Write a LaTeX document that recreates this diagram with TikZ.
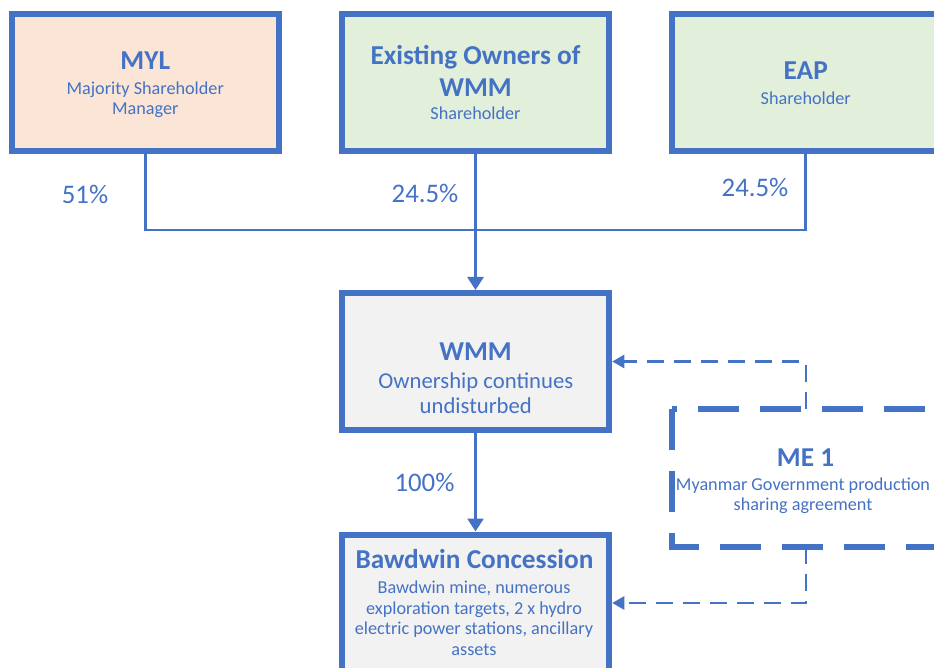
\documentclass[tikz,border=0pt]{standalone}
\usepackage{fontspec}
\setmainfont{Carlito}
\usetikzlibrary{arrows.meta}
\definecolor{lineblue}{HTML}{4472C4}
\definecolor{txtblue}{HTML}{4472C4}
\definecolor{fillorange}{HTML}{FBE5D6}
\definecolor{fillgreen}{HTML}{E2EFDA}
\definecolor{fillgray}{HTML}{F2F2F2}
\newcommand{\mlines}[1]{\begin{tabular}[t]{@{}c@{}}#1\end{tabular}}
\begin{document}
\begin{tikzpicture}[x=1pt,y=-1pt,
  box/.style={draw=lineblue, line width=6pt, minimum width=267.5pt, minimum height=137pt, inner sep=0pt},
  ttl/.style={anchor=base, text=txtblue, font=\fontsize{27.3}{32}\selectfont\bfseries, inner sep=0pt},
  sub/.style={anchor=base, text=txtblue, font=\fontsize{18.2}{20.7}\selectfont, inner sep=0pt},
  pct/.style={anchor=base, text=txtblue, font=\fontsize{26.8}{30}\selectfont, inner sep=0pt},
  conn/.style={draw=lineblue, line width=2.75pt},
  arr/.style={-{Triangle[length=13pt,width=16pt]}},
  dconn/.style={draw=lineblue, line width=2.5pt, dash pattern=on 17pt off 10pt, -{Triangle[length=12pt,width=13pt]}}]
\useasboundingbox (0,0) rectangle (934,668);
\clip (0,0) rectangle (934,668);
% boxes
\node[box, fill=fillorange] (myl) at (145.25,82.5) {};
\node[box, fill=fillgreen] (own) at (475.5,82.5) {};
\node[box, fill=fillgreen] (eap) at (805.75,82.5) {};
\node[box, fill=fillgray] (wmm) at (475.5,361.5) {};
\node[box, fill=fillgray] (baw) at (475.5,603) {};
\node[box, draw=none, fill=white, outer sep=0pt, minimum height=138pt] (me) at (805.75,478) {};
\draw[lineblue, line width=6pt, dash pattern=on 41pt off 21pt] (me.north west) -- (me.south west) -- (me.south east) -- (me.north east) -- cycle;
% texts
\node[ttl] (mylT) at (145.25,70) {MYL};
\node[sub] (mylS) at (145.25,94.3) {\mlines{Majority Shareholder\\Manager}};
\node[ttl] (ownT) at (475.5,65) {\mlines{Existing Owners of\\WMM}};
\node[sub] (ownS) at (475.5,120) {Shareholder};
\node[ttl] (eapT) at (805.75,80) {EAP};
\node[sub] (eapS) at (805.75,105) {Shareholder};
\node[ttl] (wmmT) at (475.5,360) {WMM};
\node[sub, font=\fontsize{22.7}{25}\selectfont] (wmmS) at (475.8,388.3) {\mlines{Ownership continues\\undisturbed}};
\node[ttl] (bawT) at (474.5,568.3) {Bawdwin Concession};
\node[sub] (bawS) at (474,593.3) {\mlines{Bawdwin mine, numerous\\exploration targets, 2 x hydro\\electric power stations, ancillary\\assets}};
\node[ttl] (meT) at (805.5,466.7) {ME 1};
\node[sub] (meS) at (803,490) {\mlines{Myanmar Government production\\sharing agreement}};
% percentages
\node[pct] (p1) at (85,203.3) {51\%};
\node[pct] (p2) at (425,202.7) {24.5\%};
\node[pct] (p3) at (755,196.7) {24.5\%};
\node[pct] (p4) at (424.5,491.7) {100\%};
% connectors
\coordinate (jn) at (475.5,230);
\draw[conn] (myl.south) -- (myl.south |- jn) -- (eap.south |- jn) -- (eap.south);
\draw[conn, arr] (own.south) -- (wmm.north);
\draw[conn, arr] (wmm.south) -- (baw.north);
\draw[dconn] (me.north) |- (wmm.east);
\draw[dconn] (me.south) |- (baw.east);
\end{tikzpicture}
\end{document}
